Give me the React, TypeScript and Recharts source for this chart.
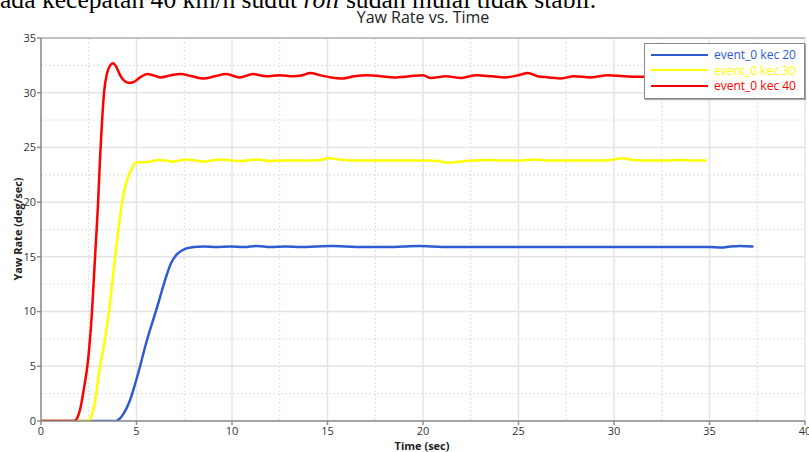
import { LineChart, Line, XAxis, YAxis, CartesianGrid, Legend, ReferenceLine } from 'recharts';

// tick values
const xTicks = [0, 5, 10, 15, 20, 25, 30, 35, 40];
const yTicks = [0, 5, 10, 15, 20, 25, 30, 35];
const xMinor = [2.5, 7.5, 12.5, 17.5, 22.5, 27.5, 32.5, 37.5];
const yMinor = [2.5, 7.5, 12.5, 17.5, 22.5, 27.5, 32.5];

// event_0 kec 20
const time20 = [0, 3.9, 4.05, 4.3, 4.66, 5.03, 5.55, 6.08, 6.5, 6.8, 7.1, 7.4, 7.65, 8.0, 8.5, 9.2, 9.9, 10.6, 11.3, 12.0, 12.8, 13.6, 14.4, 15.2, 16.0, 17.0, 18.0, 19.0, 19.8, 20.5, 21.3, 22.2, 23.2, 24.2, 25.2, 26.2, 27.2, 28.2, 29.2, 30.2, 31.2, 32.2, 33.2, 34.2, 35.0, 35.6, 36.1, 36.6, 37.3];
const yaw20 = [0, 0, 0.1, 0.6, 1.9, 4.0, 7.4, 10.4, 12.9, 14.4, 15.2, 15.6, 15.8, 15.9, 15.95, 15.9, 15.95, 15.9, 16.0, 15.9, 15.95, 15.9, 15.95, 16.0, 15.95, 15.9, 15.9, 15.95, 16.0, 15.95, 15.9, 15.9, 15.9, 15.9, 15.9, 15.9, 15.9, 15.9, 15.9, 15.9, 15.9, 15.9, 15.9, 15.9, 15.9, 15.85, 15.95, 16.0, 15.95];

// event_0 kec 30
const time30 = [0, 2.45, 2.6, 2.8, 3.09, 3.35, 3.56, 3.88, 4.05, 4.25, 4.5, 4.77, 4.95, 5.3, 5.7, 6.1, 6.5, 6.9, 7.6, 8.1, 8.5, 9.4, 10.0, 10.5, 11.3, 12.0, 12.6, 13.3, 14.0, 14.6, 15.1, 15.6, 16.3, 17.2, 18.2, 19.2, 20.2, 20.8, 21.3, 21.9, 22.6, 23.4, 24.2, 25.0, 25.8, 26.6, 27.4, 28.2, 29.0, 29.8, 30.4, 31.0, 31.8, 32.6, 33.4, 34.2, 34.85];
const yaw30 = [0, 0, 0.3, 1.5, 5, 7.5, 10, 15, 17.5, 20, 22, 23.1, 23.6, 23.65, 23.7, 23.85, 23.8, 23.7, 23.9, 23.8, 23.7, 23.9, 23.8, 23.75, 23.9, 23.75, 23.8, 23.8, 23.8, 23.85, 24.0, 23.9, 23.8, 23.8, 23.8, 23.8, 23.8, 23.75, 23.6, 23.7, 23.8, 23.85, 23.8, 23.8, 23.9, 23.8, 23.8, 23.8, 23.8, 23.85, 24.0, 23.85, 23.8, 23.8, 23.85, 23.8, 23.8];

// event_0 kec 40
const time40 = [0, 1.75, 1.9, 2.04, 2.25, 2.46, 2.67, 2.83, 2.99, 3.09, 3.2, 3.3, 3.46, 3.62, 3.77, 3.93, 4.14, 4.35, 4.61, 4.87, 5.19, 5.56, 5.87, 6.24, 6.8, 7.3, 7.9, 8.5, 9.1, 9.7, 10.4, 11.1, 11.8, 12.5, 13.2, 13.7, 14.1, 14.6, 15.2, 15.8, 16.4, 17.1, 17.8, 18.5, 19.3, 20.0, 20.4, 21.2, 22.0, 22.8, 23.6, 24.3, 25.0, 25.5, 26.0, 26.6, 27.2, 27.9, 28.8, 29.7, 30.5, 31.4, 32.2, 33.0, 33.8, 34.6, 35.4];
const yaw40 = [0, 0, 0.3, 1, 3, 5.5, 10, 15, 20, 24, 27.5, 30, 31.8, 32.5, 32.7, 32.4, 31.6, 31.1, 30.9, 31.0, 31.4, 31.7, 31.6, 31.4, 31.6, 31.7, 31.5, 31.3, 31.5, 31.7, 31.4, 31.7, 31.5, 31.6, 31.5, 31.6, 31.8, 31.6, 31.4, 31.3, 31.5, 31.6, 31.5, 31.4, 31.5, 31.6, 31.35, 31.5, 31.35, 31.6, 31.5, 31.4, 31.6, 31.8, 31.5, 31.4, 31.3, 31.5, 31.4, 31.6, 31.5, 31.45, 31.5, 31.4, 31.5, 31.45, 31.5];

const toPoints = (t: number[], v: number[]) => t.map((x, i) => ({ t: x, v: v[i] }));

const BLUE = '#2d5cd2';
const YELLOW = '#ffff00';
const RED = '#ff0000';

const tickStyle = { fontSize: 11, fill: '#333', fontFamily: 'Open Sans' };

const renderLegend = (props: any) => {
  const { payload } = props;
  return (
    <div
      style={{
        border: '1px solid #888',
        boxShadow: '1px 1px 1px #aaa',
        background: '#fff',
        padding: '3px 0 4px 6px',
        fontFamily: 'Open Sans',
        fontSize: 12,
        lineHeight: '15.5px',
        boxSizing: 'border-box',
      }}
    >
      {payload.map((p: any) => (
        <div key={p.value} style={{ display: 'flex', alignItems: 'center' }}>
          <span style={{ display: 'inline-block', width: 57, height: 2, background: p.color, marginRight: 6 }} />
          <span style={{ color: p.color }}>{p.value}</span>
        </div>
      ))}
    </div>
  );
};

export default function App() {
  return (
    <div style={{ position: 'absolute', left: 0, top: 0, width: 809, height: 452, overflow: 'hidden', background: '#fff' }}>
      {/* caption line from the page above, only its lower half shows */}
      <div
        style={{
          position: 'absolute',
          left: 0,
          top: -10.5,
          height: 20,
          lineHeight: '20px',
          whiteSpace: 'nowrap',
          fontFamily: 'Liberation Serif',
          fontSize: 25.6,
          color: '#000',
        }}
      >
        ada kecepatan 40 km/h sudut <i>roll</i> sudah mulai tidak stabil.
      </div>
      <div
        style={{
          position: 'absolute',
          left: 0,
          width: 846,
          top: 10,
          lineHeight: '14px',
          textAlign: 'center',
          fontFamily: 'Open Sans',
          fontSize: 16,
          color: '#222',
        }}
      >
        Yaw Rate vs. Time
      </div>
      <div style={{ position: 'absolute', left: 0, top: 0 }}>
        <LineChart width={809} height={452} margin={{ top: 38, right: 4, left: 0, bottom: 0 }}>
          <CartesianGrid horizontalValues={yMinor} verticalValues={xMinor} stroke="#dedede" strokeDasharray="2 2" />
          <CartesianGrid horizontalValues={yTicks} verticalValues={xTicks} stroke="#e4e4e4" strokeWidth={1.5} />
          <ReferenceLine y={35} stroke="#999" strokeWidth={1} />
          <XAxis
            type="number"
            dataKey="t"
            domain={[0, 40]}
            ticks={xTicks}
            allowDataOverflow
            height={31}
            tickSize={4}
            tickMargin={2}
            stroke="#8c8c8c"
            strokeWidth={1.5}
            tick={tickStyle}
            interval={0}
          />
          <YAxis
            type="number"
            domain={[0, 35]}
            ticks={yTicks}
            allowDataOverflow
            width={41}
            tickSize={4}
            tickMargin={1}
            stroke="#8c8c8c"
            strokeWidth={1.5}
            tick={tickStyle}
            interval={0}
          />
          <Legend
            layout="horizontal"
            verticalAlign="middle"
            align="center"
            content={renderLegend}
            wrapperStyle={{ left: 644, top: 43, width: 161, height: 'auto' }}
          />
          <Line data={toPoints(time20, yaw20)} dataKey="v" name="event_0 kec 20" type="monotone" stroke={BLUE} strokeWidth={2.5} dot={false} isAnimationActive={false} />
          <Line data={toPoints(time30, yaw30)} dataKey="v" name="event_0 kec 30" type="monotone" stroke={YELLOW} strokeWidth={2.5} dot={false} isAnimationActive={false} />
          <Line data={toPoints(time40, yaw40)} dataKey="v" name="event_0 kec 40" type="monotone" stroke={RED} strokeWidth={2.5} dot={false} isAnimationActive={false} />
        </LineChart>
      </div>
      <div
        style={{
          position: 'absolute',
          left: 17,
          top: 229,
          transform: 'translate(-50%, -50%) rotate(-90deg)',
          whiteSpace: 'nowrap',
          fontFamily: 'Open Sans',
          fontWeight: 'bold',
          fontSize: 11,
          color: '#222',
        }}
      >
        Yaw Rate (deg/sec)
      </div>
      <div
        style={{
          position: 'absolute',
          left: 422,
          top: 445,
          transform: 'translate(-50%, -50%)',
          whiteSpace: 'nowrap',
          fontFamily: 'Open Sans',
          fontWeight: 'bold',
          fontSize: 11,
          color: '#222',
        }}
      >
        Time (sec)
      </div>
    </div>
  );
}
